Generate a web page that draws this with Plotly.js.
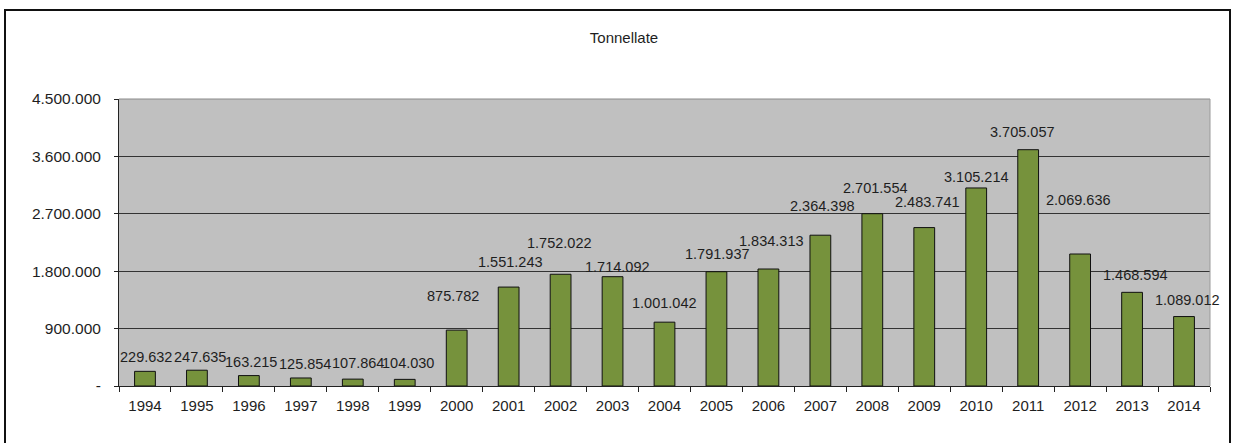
<!DOCTYPE html>
<html>
<head>
<meta charset="utf-8">
<script src="https://cdn.plot.ly/plotly-3.0.1.min.js"></script>
<style>
  html, body { margin: 0; padding: 0; background: #fff; }
  #wrap { position: relative; width: 1236px; height: 443px; overflow: hidden; }
  #chart { width: 1236px; height: 443px; }
  #frame { position: absolute; left: 4px; top: 9px; width: 1223px; height: 460px;
           border: 2px solid #111; pointer-events: none; }
</style>
</head>
<body>
<div id="wrap">
  <div id="chart"></div>
  <div id="frame"></div>
</div>
<script>
// ---- data ----
const years = ['1994','1995','1996','1997','1998','1999','2000','2001','2002','2003','2004',
               '2005','2006','2007','2008','2009','2010','2011','2012','2013','2014'];
const tonnellate = [229632, 247635, 163215, 125854, 107864, 104030, 875782, 1551243, 1752022,
                    1714092, 1001042, 1791937, 1834313, 2364398, 2701554, 2483741, 3105214,
                    3705057, 2069636, 1468594, 1089012];
const yTickVals = [0, 900000, 1800000, 2700000, 3600000, 4500000];
const yTickText = ['-', '900.000', '1.800.000', '2.700.000', '3.600.000', '4.500.000'];

// label placement offsets (pixels) mimicking the original label layout
const labelDx = [1, 3, 2, 4, 5, 3, -4, 2, -1, 5, 0, 1, 3, 2, 3, 3, 0, -6, -2, 3, 3];
const labelDy = [14, 13, 14, 14, 16, 16, 34, 25, 31, 10, 19, 18, 28, 29, 26, 26, 11, 18, 54, 17, 17];

function fmtIt(v) {
  return String(v).replace(/\B(?=(\d{3})+(?!\d))/g, '.');
}

const FONT = 'Liberation Sans, Arial, sans-serif';
const TXT = '#1e1e1e';

const trace = {
  type: 'bar',
  x: years,
  y: tonnellate,
  width: 0.4,
  marker: { color: '#76923C', line: { color: '#101010', width: 1 } },
  hoverinfo: 'x+y'
};

// annotations use the category index (serial number) on the category axis
const annotations = years.map((yr, i) => ({
  x: i, y: tonnellate[i], xref: 'x', yref: 'y',
  text: fmtIt(tonnellate[i]), showarrow: false,
  xanchor: 'center', yanchor: 'middle',
  xshift: labelDx[i], yshift: labelDy[i],
  font: { family: FONT, size: 14.5, color: TXT }
}));

const layout = {
  width: 1236, height: 443,
  margin: { l: 119, r: 26, t: 99, b: 57 },
  paper_bgcolor: '#ffffff',
  plot_bgcolor: '#C0C0C0',
  showlegend: false,
  title: {
    text: 'Tonnellate',
    x: 624 / 1236, xref: 'container', xanchor: 'center',
    y: 1 - 38 / 443, yref: 'container', yanchor: 'middle',
    font: { family: FONT, size: 15, color: TXT }
  },
  xaxis: {
    type: 'category',
    categoryorder: 'array', categoryarray: years,
    range: [-0.5, years.length - 0.5],
    autorange: false,
    tickson: 'boundaries',
    tickangle: 0,
    ticks: 'outside', ticklen: 5, tickwidth: 1, tickcolor: '#222',
    showline: true, linecolor: '#222', linewidth: 1,
    showgrid: false,
    tickfont: { family: FONT, size: 15, color: TXT },
    ticklabelstandoff: 6
  },
  yaxis: {
    range: [0, 4500000],
    autorange: false,
    tickmode: 'array', tickvals: yTickVals, ticktext: yTickText,
    ticks: 'outside', ticklen: 4, tickwidth: 1, tickcolor: '#222',
    showline: true, linecolor: '#222', linewidth: 1,
    showgrid: true, gridcolor: '#333333', gridwidth: 1,
    zeroline: false,
    tickfont: { family: FONT, size: 15.5, color: TXT },
    ticklabelstandoff: 10
  },
  shapes: [{
    type: 'line', xref: 'paper', yref: 'paper', x0: 0, x1: 1, y0: 1, y1: 1,
    line: { color: '#8a8a8a', width: 1 }
  }, {
    type: 'line', xref: 'paper', yref: 'paper', x0: 1, x1: 1, y0: 0, y1: 1,
    line: { color: '#9a9a9a', width: 1 }
  }],
  annotations: annotations
};

Plotly.newPlot('chart', [trace], layout, { staticPlot: true, displayModeBar: false });
</script>
</body>
</html>
